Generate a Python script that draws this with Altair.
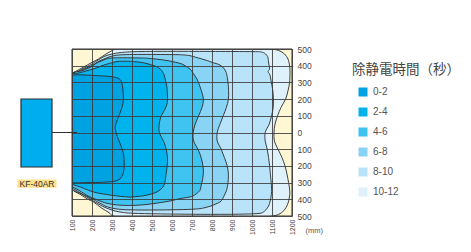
import altair as alt
import pandas as pd

# ---------------- data ----------------
RANGES = ["0-2", "2-4", "4-6", "6-8", "8-10", "10-12"]
COLORS = ["#00A2E2", "#00B3EC", "#3FC3F1", "#89D3F4", "#B9E3F8", "#DFF1FA"]
LEGEND_TITLE = "除静電時間（秒）"
DEVICE_LABEL = "KF-40AR"
X_TICKS = [100, 200, 300, 400, 500, 600, 700, 800, 900, 1000, 1100, 1200]
Y_TICKS = [-500, -400, -300, -200, -100, 0, 100, 200, 300, 400, 500]

# contour 10-12 (outermost)
Y_10_12 = [500, 490, 470, 440, 420, 390, 370, 352, 300, 250, 200, 150, 100, 50, 0,
           -50, -100, -150, -200, -250, -300, -340, -370, -400, -416, -450, -480, -500]
XL_10_12 = [318, 300, 270, 232, 200, 155, 125, 100, 100, 100, 100, 100, 100, 100, 100,
            100, 100, 100, 100, 100, 100, 100, 140, 180, 207, 245, 285, 307]
XR_10_12 = [1105, 1135, 1163, 1180, 1185, 1189, 1190, 1190, 1188, 1180, 1168, 1145, 1128, 1115, 1110,
            1112, 1130, 1150, 1165, 1175, 1183, 1188, 1189, 1185, 1182, 1170, 1148, 1105]

# contour 8-10
Y_8_10 = [484, 478, 470, 455, 430, 410, 380, 365, 350, 300, 250, 200, 150, 100, 50, 0,
          -50, -100, -150, -200, -250, -300, -338, -370, -410, -440, -465, -478, -484]
XL_8_10 = [410, 340, 300, 260, 225, 200, 150, 128, 100, 100, 100, 100, 100, 100, 100, 100,
           100, 100, 100, 100, 100, 100, 100, 150, 207, 250, 300, 350, 410]
XR_8_10 = [1040, 1058, 1068, 1078, 1082, 1084, 1088, 1080, 1088, 1097, 1104, 1107, 1106, 1098, 1086, 1066,
           1066, 1076, 1083, 1088, 1092, 1096, 1098, 1097, 1091, 1083, 1068, 1055, 1040]

# contour 6-8
Y_6_8 = [466, 460, 450, 440, 430, 420, 404, 380, 360, 352, 300, 250, 200, 150, 100, 50, 0,
         -50, -100, -150, -200, -250, -300, -330, -346, -380, -400, -416, -430, -440, -450, -456, -462]
XL_6_8 = [360, 310, 280, 260, 240, 225, 205, 160, 125, 100, 100, 100, 100, 100, 100, 100, 100,
          100, 100, 100, 100, 100, 100, 100, 120, 170, 207, 228, 250, 265, 290, 315, 360]
XR_6_8 = [640, 690, 720, 750, 778, 800, 840, 862, 871, 873, 880, 883, 882, 872, 856, 840, 826,
          826, 846, 862, 876, 882, 880, 876, 873, 860, 852, 840, 815, 795, 765, 740, 640]

# contour 4-6
Y_4_6 = [446, 440, 430, 420, 410, 390, 380, 370, 352, 320, 274, 230, 194, 150, 100, 50, 0,
         -50, -106, -160, -226, -280, -320, -346, -380, -386, -396, -410, -420, -430, -436]
XL_4_6 = [300, 270, 250, 230, 215, 190, 170, 150, 100, 100, 100, 100, 100, 100, 100, 100, 100,
          100, 100, 100, 100, 100, 100, 135, 180, 190, 210, 240, 262, 300, 350]
XR_4_6 = [460, 520, 580, 620, 650, 678, 690, 698, 707, 725, 740, 752, 757, 750, 733, 716, 706,
          708, 732, 748, 757, 753, 745, 740, 705, 690, 640, 590, 540, 480, 420]

# contour 2-4
Y_2_4 = [426, 418, 400, 394, 378, 365, 354, 350, 320, 276, 230, 180, 140, 96, 50, 0,
         -64, -144, -200, -244, -290, -306, -330, -356, -376, -386]
XL_2_4 = [330, 300, 250, 238, 200, 160, 125, 100, 100, 100, 100, 100, 100, 100, 100, 100,
          100, 100, 100, 100, 100, 100, 150, 207, 300, 380]
XR_2_4 = [400, 455, 510, 523, 543, 552, 557, 559, 566, 574, 577, 577, 565, 545, 536, 537,
          562, 577, 576, 571, 566, 563, 552, 525, 470, 400]

# contour 0-2 (innermost)
Y_0_2 = [342, 335, 325, 310, 280, 240, 196, 150, 96, 60, 36, 0, -44, -80, -124, -160,
         -204, -240, -264, -282, -292, -298, -300]
XL_0_2 = [100] * 23
XR_0_2 = [200, 290, 330, 345, 352, 356, 357, 350, 333, 322, 316, 320, 333, 345, 357, 360,
          361, 357, 349, 335, 310, 250, 180]

CONTOURS = [
    ("10-12", Y_10_12, XL_10_12, XR_10_12),
    ("8-10", Y_8_10, XL_8_10, XR_8_10),
    ("6-8", Y_6_8, XL_6_8, XR_6_8),
    ("4-6", Y_4_6, XL_4_6, XR_4_6),
    ("2-4", Y_2_4, XL_2_4, XR_2_4),
    ("0-2", Y_0_2, XL_0_2, XR_0_2),
]

# closed outline of each contour: right side downwards, then left side upwards
rows = []
for name, ys, xl, xr in CONTOURS:
    pts = list(zip(xr, ys)) + list(zip(xl, ys))[::-1]
    pts.append(pts[0])
    for j, (px, py) in enumerate(pts):
        rows.append({"band": name, "j": j, "x": px, "y": py})
df = pd.DataFrame(rows)

# ---------------- layout ----------------
W, H = 220, 167
FONT = "Liberation Sans"

xscale = alt.Scale(domain=[100, 1200], nice=False, zero=False)
yscale = alt.Scale(domain=[-500, 500], nice=False, zero=False)
cscale = alt.Scale(domain=RANGES, range=COLORS)

xaxis = alt.Axis(values=X_TICKS, orient="bottom", labelAngle=270, labelFontSize=7, format="d",
                 labelOverlap=False, labelColor="#444", labelFont=FONT, labelPadding=3,
                 ticks=False, domain=False,
                 grid=True, gridColor="#3a3a3a", gridWidth=1, gridOpacity=0.85,
                 title="(mm)", titleX=233, titleY=14, titleAlign="left", titleBaseline="middle",
                 titleFontSize=7.5, titleFontWeight="normal", titleColor="#555", titleFont=FONT,
                 zindex=1)
yaxis = alt.Axis(values=Y_TICKS, orient="right", labelExpr="format(abs(datum.value), 'd')",
                 labelOverlap=False, labelFontSize=8.5, labelColor="#444", labelFont=FONT,
                 labelPadding=5, ticks=False, domain=False, grid=True, gridColor="#3a3a3a",
                 gridWidth=1, gridOpacity=0.85, title=None, zindex=1)
legend = alt.Legend(title=None, orient="none", legendX=286, legendY=38, symbolType="square",
                    symbolSize=81, symbolStrokeWidth=0, labelFontSize=10, labelColor="#555",
                    labelFont=FONT, rowPadding=10, labelOffset=5, padding=0)

X_ENC = alt.X("x:Q", scale=xscale, axis=xaxis)
Y_ENC = alt.Y("y:Q", scale=yscale, axis=yaxis)

layers = []
for name, _, _, _ in CONTOURS:
    base = alt.Chart(df).transform_filter(alt.datum.band == name)
    fill = base.mark_line(filled=True, strokeWidth=0, interpolate="catmull-rom", clip=True).encode(
        x=X_ENC, y=Y_ENC, order=alt.Order("j:Q"),
        color=alt.Color("band:N", scale=cscale, legend=legend),
    )
    outline = base.mark_line(color="#2b2b2b", strokeWidth=0.9, interpolate="catmull-rom",
                             clip=True).encode(
        x=X_ENC, y=Y_ENC, order=alt.Order("j:Q"),
    )
    layers += [fill, outline]

one = pd.DataFrame({"k": [0]})

border = alt.Chart(one).mark_rect(filled=False, stroke="#333", strokeWidth=1).encode(
    x=alt.value(0), x2=alt.value(W), y=alt.value(0), y2=alt.value(H))

title = alt.Chart(one).mark_text(align="left", baseline="middle", font="Noto Sans CJK JP",
                                 fontSize=13.5, color="#444").encode(
    x=alt.value(280), y=alt.value(21), text=alt.value(LEGEND_TITLE))

device = alt.Chart(one).mark_rect(fill="#00AEEF", stroke="#2b2b2b", strokeWidth=1.2).encode(
    x=alt.value(-51), x2=alt.value(-20), y=alt.value(50), y2=alt.value(118))
connector = alt.Chart(one).mark_rule(color="#333", strokeWidth=1).encode(
    x=alt.value(-20), x2=alt.value(5), y=alt.value(83.5))
label_bg = alt.Chart(one).mark_rect(fill="#FFE08C").encode(
    x=alt.value(-54.5), x2=alt.value(-15.5), y=alt.value(130.5), y2=alt.value(138.7))
label = alt.Chart(one).mark_text(align="center", baseline="middle", font=FONT, fontSize=8.5,
                                 color="#333").encode(
    x=alt.value(-35), y=alt.value(134.8), text=alt.value(DEVICE_LABEL))

chart = alt.layer(*layers, border, title, device, connector, label_bg, label).properties(
    width=W, height=H,
    padding={"left": 72, "top": 49, "right": 179, "bottom": 36},
    autosize=alt.AutoSizeParams(type="none"),
).configure_view(fill="#FFF7D3", stroke="transparent")

chart.save("out.html", embed_options={"renderer": "svg", "actions": False})
